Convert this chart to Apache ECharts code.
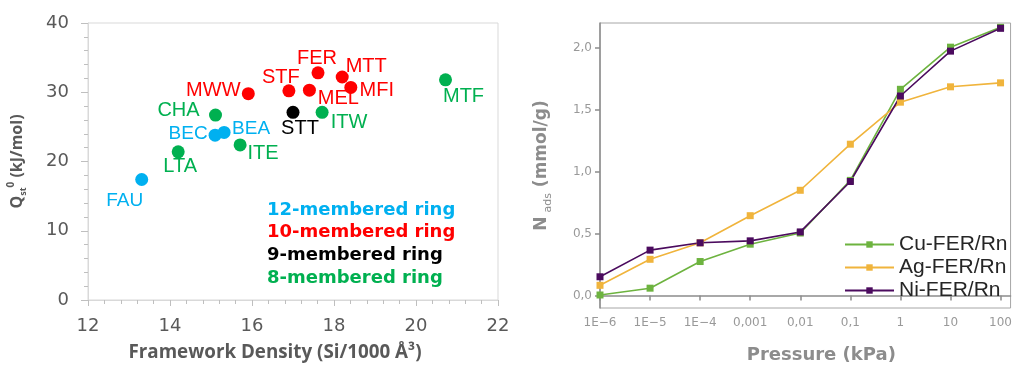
<!DOCTYPE html>
<html>
<head>
<meta charset="utf-8">
<script src="https://cdn.jsdelivr.net/npm/echarts@6/dist/echarts.min.js"></script>
<style>
  html, body { margin: 0; padding: 0; background: #ffffff; }
  #chart { width: 1015px; height: 369px; }
</style>
</head>
<body>
<div id="chart"></div>
<script>
// ---- Left panel: isosteric heat of adsorption vs framework density ----
const ring12Names = ['FAU', 'BEC', 'BEA'];
const ring12Density = [13.31, 15.10, 15.32];
const ring12Qst = [17.4, 23.8, 24.2];

const ring10Names = ['MWW', 'STF', 'MEL', 'FER', 'MTT', 'MFI'];
const ring10Density = [15.91, 16.90, 17.40, 17.61, 18.20, 18.41];
const ring10Qst = [29.8, 30.2, 30.3, 32.8, 32.2, 30.7];

const ring9Names = ['STT'];
const ring9Density = [17.00];
const ring9Qst = [27.1];

const ring8Names = ['LTA', 'CHA', 'ITE', 'ITW', 'MTF'];
const ring8Density = [14.20, 15.11, 15.71, 17.71, 20.72];
const ring8Qst = [21.4, 26.7, 22.4, 27.1, 31.8];

const ringGroupLabels = ['12-membered ring', '10-membered ring', '9-membered ring', '8-membered ring'];

// ---- Right panel: Rn adsorption isotherms on metal-exchanged FER ----
const pressureKPa = [1e-6, 1e-5, 1e-4, 1e-3, 1e-2, 1e-1, 1, 10, 100];
const pressureLabels = ['1E\u22126', '1E\u22125', '1E\u22124', '0,001', '0,01', '0,1', '1', '10', '100'];
const cuFerRn = [0.005, 0.060, 0.275, 0.415, 0.505, 0.930, 1.665, 2.005, 2.165];
const agFerRn = [0.083, 0.293, 0.426, 0.645, 0.850, 1.222, 1.561, 1.685, 1.717];
const niFerRn = [0.152, 0.367, 0.426, 0.442, 0.514, 0.921, 1.611, 1.973, 2.157];
const nadsTicks = [0, 0.5, 1.0, 1.5, 2.0];
const nadsTickLabels = ['0,0', '0,5', '1,0', '1,5', '2,0'];

// label placement around each marker (pixel offsets from marker centre)
const labelOffsets = {
  FAU: [-17, 21], BEC: [-27, -1], BEA: [27, -4],
  MWW: [-35, -3], STF: [-8, -13], MEL: [29, 8], FER: [-1, -14], MTT: [24, -11], MFI: [26, 3],
  STT: [7, 16],
  LTA: [2, 15], CHA: [-37, -5], ITE: [23, 9], ITW: [27, 10], MTF: [18, 17]
};

const C_BLUE = '#00B0F0', C_RED = '#FF0000', C_BLACK = '#000000', C_GREEN = '#00B050';

function ringSeries(names, xs, ys, color, fontSize) {
  return {
    type: 'scatter',
    xAxisIndex: 0, yAxisIndex: 0,
    symbol: 'circle',
    symbolSize: 13,
    itemStyle: { color: color, opacity: 1 },
    label: {
      show: true, position: 'inside', formatter: '{b}',
      color: color, fontFamily: 'Liberation Sans, Arial, sans-serif', fontSize: fontSize
    },
    data: names.map((n, i) => ({ name: n, value: [xs[i], ys[i]], label: { offset: labelOffsets[n] } })),
    z: 3
  };
}

function lineSeries(name, values, color) {
  return {
    type: 'line', name: name,
    xAxisIndex: 1, yAxisIndex: 1,
    symbol: 'rect', symbolSize: 7,
    lineStyle: { color: color, width: 1.6 },
    itemStyle: { color: color },
    data: pressureKPa.map((p, i) => [p, values[i]])
  };
}

const chart = echarts.init(document.getElementById('chart'), null, { renderer: 'canvas' });

const leftAxisGray = '#d9d9d9';
const rightAxisGray = '#8c8c8c';

chart.setOption({
  backgroundColor: '#ffffff',
  animation: false,
  grid: [
    { left: 88, top: 23, width: 410, height: 277, show: true, borderColor: leftAxisGray, borderWidth: 1 },
    { left: 600, top: 23, width: 413, height: 287, show: true, borderColor: '#a6a6a6', borderWidth: 1 }
  ],
  xAxis: [
    {
      gridIndex: 0, type: 'value', min: 12, max: 22, interval: 2,
      name: 'Framework Density (Si/1000 \u00C5\u00B3)',
      nameLocation: 'middle', nameGap: 43,
      nameTextStyle: { color: '#595959', fontFamily: 'Open Sans', fontWeight: 'bold', fontSize: 18.8, padding: [0, 36, 0, 0] },
      axisLine: { show: true, lineStyle: { color: leftAxisGray, width: 1 } },
      axisTick: { show: true, length: 6, lineStyle: { color: '#bfbfbf' } },
      minorTick: { show: true, splitNumber: 5, length: 4, lineStyle: { color: '#bfbfbf' } },
      splitLine: { show: false },
      axisLabel: { color: '#595959', fontFamily: 'DejaVu Sans', fontSize: 18, margin: 17 }
    },
    {
      gridIndex: 1, type: 'log', logBase: 10, min: 1e-6, max: 158.5,
      name: 'Pressure (kPa)',
      nameLocation: 'middle', nameGap: 38,
      nameTextStyle: { color: rightAxisGray, fontFamily: 'DejaVu Sans', fontWeight: 'bold', fontSize: 18, padding: [0, 0, 0, 32] },
      axisLine: { show: true, lineStyle: { color: rightAxisGray, width: 1.5 } },
      axisTick: { show: true, length: 5, lineStyle: { color: rightAxisGray, width: 1.5 } },
      minorTick: { show: false },
      splitLine: { show: false },
      axisLabel: {
        color: '#999999', fontFamily: 'DejaVu Sans', fontSize: 12, margin: 9,
        showMaxLabel: false,
        formatter: function (v) {
          const i = pressureKPa.findIndex(p => Math.abs(Math.log10(p) - Math.log10(v)) < 1e-6);
          return i >= 0 ? pressureLabels[i] : '';
        }
      }
    }
  ],
  yAxis: [
    {
      gridIndex: 0, type: 'value', min: 0, max: 40, interval: 10,
      name: '{q|Q}{sub|st}{sup|0}{t| (kJ/mol)}',
      nameLocation: 'middle', nameGap: 60,
      nameTextStyle: {
        color: '#595959', fontFamily: 'Open Sans', fontWeight: 'bold',
        rich: {
          q: { fontSize: 16, fontWeight: 'bold', color: '#595959', fontFamily: 'Open Sans', lineHeight: 22 },
          sub: { fontSize: 9, fontWeight: 'bold', color: '#595959', fontFamily: 'Open Sans', verticalAlign: 'bottom', lineHeight: 11 },
          sup: { fontSize: 10, fontWeight: 'bold', color: '#595959', fontFamily: 'Open Sans', verticalAlign: 'top', lineHeight: 12 },
          t: { fontSize: 16, fontWeight: 'bold', color: '#595959', fontFamily: 'Open Sans', lineHeight: 22 }
        }
      },
      axisLine: { show: true, lineStyle: { color: leftAxisGray, width: 1 } },
      axisTick: { show: true, length: 7, lineStyle: { color: '#bfbfbf' } },
      minorTick: { show: true, splitNumber: 5, length: 4, lineStyle: { color: '#bfbfbf' } },
      splitLine: { show: false },
      axisLabel: { color: '#595959', fontFamily: 'DejaVu Sans', fontSize: 18, margin: 19 }
    },
    {
      gridIndex: 1, type: 'value', min: -0.1, max: 2.2,
      name: '{n|N}{sub|ads}{t| (mmol/g)}',
      nameLocation: 'middle', nameGap: 46,
      nameTextStyle: {
        color: rightAxisGray, fontFamily: 'DejaVu Sans', fontWeight: 'bold',
        rich: {
          n: { fontSize: 17, fontWeight: 'bold', color: rightAxisGray, fontFamily: 'DejaVu Sans', lineHeight: 24, padding: [0, 4, 0, 0] },
          sub: { fontSize: 11, fontWeight: 'normal', color: rightAxisGray, fontFamily: 'DejaVu Sans', verticalAlign: 'bottom', lineHeight: 12 },
          t: { fontSize: 17, fontWeight: 'bold', color: rightAxisGray, fontFamily: 'DejaVu Sans', lineHeight: 24 }
        }
      },
      axisLine: { show: true, lineStyle: { color: rightAxisGray, width: 1.5 } },
      axisTick: { show: true, length: 5, customValues: nadsTicks, lineStyle: { color: rightAxisGray, width: 1.5 } },
      splitLine: { show: false },
      axisLabel: {
        color: '#999999', fontFamily: 'DejaVu Sans', fontSize: 12, margin: 8,
        customValues: nadsTicks,
        formatter: function (v) {
          const i = nadsTicks.findIndex(t => Math.abs(t - v) < 1e-9);
          return i >= 0 ? nadsTickLabels[i] : '';
        }
      }
    }
  ],
  legend: {
    data: ['Cu-FER/Rn', 'Ag-FER/Rn', 'Ni-FER/Rn'],
    orient: 'vertical',
    left: 839, top: 229,
    itemWidth: 49, itemHeight: 8, itemGap: 2,
    textStyle: { color: '#262626', fontFamily: 'Liberation Sans, Arial, sans-serif', fontSize: 21, lineHeight: 21 }
  },
  graphic: ringGroupLabels.map((txt, i) => ({
    type: 'text',
    left: 267,
    top: 201 + i * 22.7,
    style: {
      text: txt,
      fill: [C_BLUE, C_RED, C_BLACK, C_GREEN][i],
      font: 'bold 18px "DejaVu Sans"'
    }
  })),
  series: [
    ringSeries(ring12Names, ring12Density, ring12Qst, C_BLUE, 19),
    ringSeries(ring10Names, ring10Density, ring10Qst, C_RED, 20),
    ringSeries(ring9Names, ring9Density, ring9Qst, C_BLACK, 20),
    ringSeries(ring8Names, ring8Density, ring8Qst, C_GREEN, 20),
    lineSeries('Cu-FER/Rn', cuFerRn, '#6DB33F'),
    lineSeries('Ag-FER/Rn', agFerRn, '#F0B43C'),
    lineSeries('Ni-FER/Rn', niFerRn, '#4B0B5E')
  ]
});
</script>
</body>
</html>
